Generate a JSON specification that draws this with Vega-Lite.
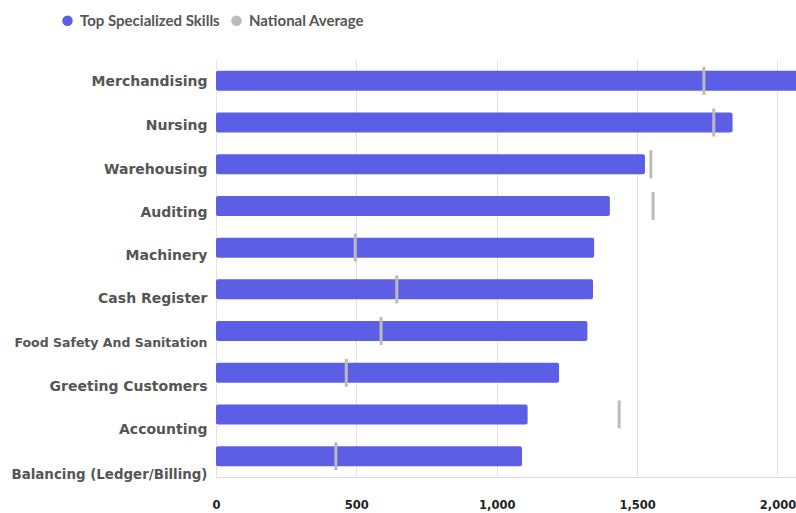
{
  "$schema": "https://vega.github.io/schema/vega-lite/v6.json",
  "width": 580,
  "height": 417,
  "autosize": {"type": "none"},
  "padding": {"left": 216, "top": 60, "right": 0, "bottom": 36},
  "background": "white",
  "config": {"view": {"stroke": null}, "font": "DejaVu Sans"},
  "data": {
    "values": [
      {"skill": "Merchandising", "series": "Top Specialized Skills", "value": 2100},
      {"skill": "Nursing", "series": "Top Specialized Skills", "value": 1840},
      {"skill": "Warehousing", "series": "Top Specialized Skills", "value": 1528},
      {"skill": "Auditing", "series": "Top Specialized Skills", "value": 1403},
      {"skill": "Machinery", "series": "Top Specialized Skills", "value": 1347},
      {"skill": "Cash Register", "series": "Top Specialized Skills", "value": 1343},
      {"skill": "Food Safety And Sanitation", "series": "Top Specialized Skills", "value": 1323},
      {"skill": "Greeting Customers", "series": "Top Specialized Skills", "value": 1222},
      {"skill": "Accounting", "series": "Top Specialized Skills", "value": 1110},
      {"skill": "Balancing (Ledger/Billing)", "series": "Top Specialized Skills", "value": 1090},
      {"skill": "Merchandising", "series": "National Average", "value": 1738},
      {"skill": "Nursing", "series": "National Average", "value": 1773},
      {"skill": "Warehousing", "series": "National Average", "value": 1549},
      {"skill": "Auditing", "series": "National Average", "value": 1557},
      {"skill": "Machinery", "series": "National Average", "value": 496},
      {"skill": "Cash Register", "series": "National Average", "value": 644},
      {"skill": "Food Safety And Sanitation", "series": "National Average", "value": 588},
      {"skill": "Greeting Customers", "series": "National Average", "value": 464},
      {"skill": "Accounting", "series": "National Average", "value": 1436},
      {"skill": "Balancing (Ledger/Billing)", "series": "National Average", "value": 427}
    ]
  },
  "encoding": {
    "y": {
      "field": "skill",
      "type": "nominal",
      "sort": ["Merchandising", "Nursing", "Warehousing", "Auditing", "Machinery", "Cash Register", "Food Safety And Sanitation", "Greeting Customers", "Accounting", "Balancing (Ledger/Billing)"],
      "scale": {"paddingInner": 0.52, "paddingOuter": 0.26},
      "axis": {
        "title": null,
        "domain": false,
        "ticks": false,
        "grid": false,
        "labelFont": "DejaVu Sans",
        "labelFontWeight": "bold",
        "labelFontSize": {
          "condition": [
            {"test": "datum.value === 'Food Safety And Sanitation'", "value": 12.5},
            {"test": "datum.value === 'Balancing (Ledger/Billing)'", "value": 13.4}
          ],
          "value": 14
        },
        "labelColor": "#555555",
        "labelPadding": 9,
        "labelLimit": 300,
        "labelOffset": {
          "condition": [
            {"test": "datum.value === 'Merchandising'", "value": 1},
            {"test": "datum.value === 'Nursing'", "value": 3.5},
            {"test": "datum.value === 'Warehousing'", "value": 5.5},
            {"test": "datum.value === 'Auditing'", "value": 7},
            {"test": "datum.value === 'Machinery'", "value": 8},
            {"test": "datum.value === 'Cash Register'", "value": 9.5},
            {"test": "datum.value === 'Food Safety And Sanitation'", "value": 12},
            {"test": "datum.value === 'Greeting Customers'", "value": 14},
            {"test": "datum.value === 'Accounting'", "value": 16},
            {"test": "datum.value === 'Balancing (Ledger/Billing)'", "value": 18.5}
          ],
          "value": 0
        }
      }
    },
    "x": {
      "field": "value",
      "type": "quantitative",
      "stack": null,
      "scale": {"domain": [0, 2066], "nice": false, "zero": true},
      "axis": {
        "title": null,
        "values": [0, 500, 1000, 1500, 2000],
        "format": ",d",
        "ticks": false,
        "domainColor": "#dddddd",
        "gridColor": "#e3e3e3",
        "labelFont": "DejaVu Sans",
        "labelFontWeight": "bold",
        "labelFontSize": 11.5,
        "labelColor": "#222222",
        "labelPadding": 22,
        "labelFlush": false
      }
    },
    "color": {
      "field": "series",
      "type": "nominal",
      "scale": {"domain": ["Top Specialized Skills", "National Average"], "range": ["#5c5fe6", "#bbbbbb"]},
      "legend": {
        "orient": "none",
        "legendX": -156,
        "legendY": -47,
        "direction": "horizontal",
        "title": null,
        "symbolType": "circle",
        "symbolSize": 110,
        "symbolStrokeWidth": 0,
        "symbolOpacity": 1,
        "labelFont": "Lato",
        "labelFontWeight": "bold",
        "labelFontSize": 15,
        "labelLimit": 400,
        "labelColor": "#555555",
        "columnPadding": 9,
        "labelOffset": 5,
        "padding": 0
      }
    }
  },
  "layer": [
    {
      "transform": [{"filter": "datum.series === 'Top Specialized Skills'"}],
      "mark": {"type": "bar", "cornerRadius": 2, "clip": true}
    },
    {
      "transform": [{"filter": "datum.series === 'National Average'"}],
      "mark": {"type": "tick", "thickness": 3, "size": 28, "clip": true, "opacity": 1}
    }
  ]
}
